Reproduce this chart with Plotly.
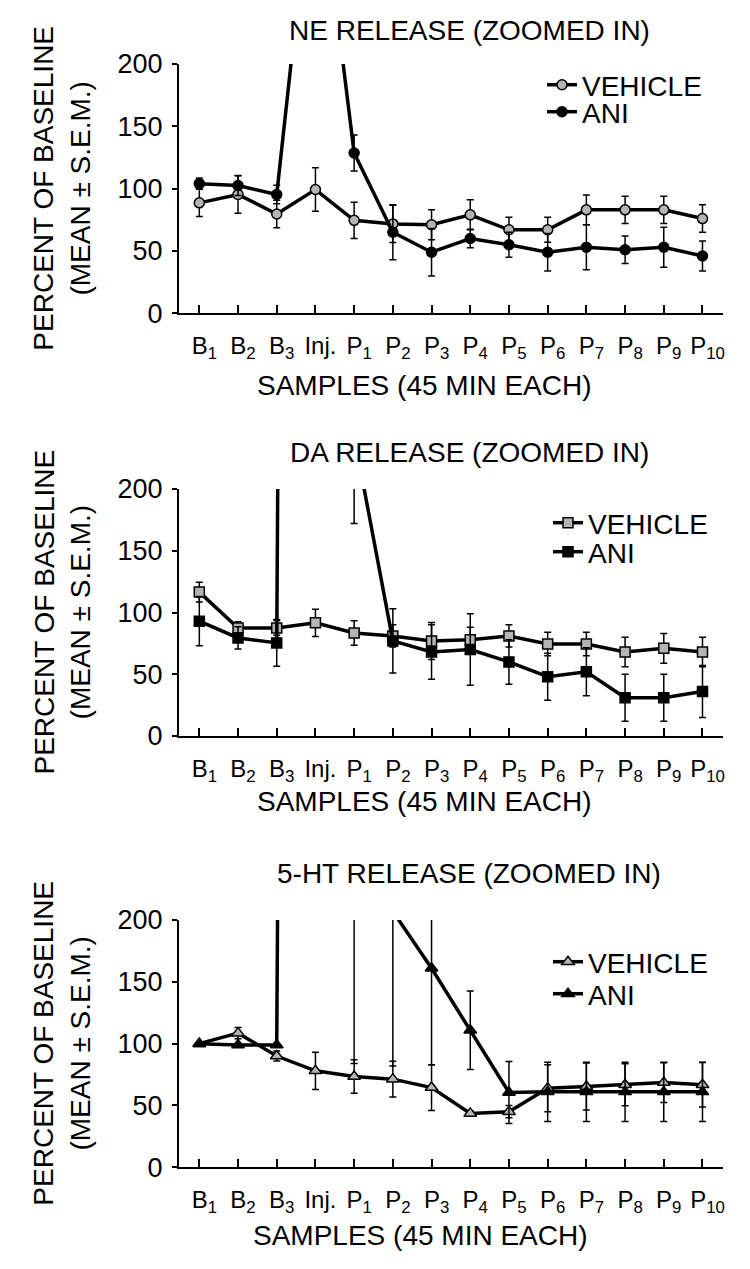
import plotly.graph_objects as go

# ---------------- data ----------------
categories = ["B1", "B2", "B3", "Inj.", "P1", "P2", "P3", "P4", "P5", "P6", "P7", "P8", "P9", "P10"]
tick_labels = ["B<sub>1</sub>", "B<sub>2</sub>", "B<sub>3</sub>", "Inj.",
               "P<sub>1</sub>", "P<sub>2</sub>", "P<sub>3</sub>", "P<sub>4</sub>", "P<sub>5</sub>",
               "P<sub>6</sub>", "P<sub>7</sub>", "P<sub>8</sub>", "P<sub>9</sub>", "P<sub>10</sub>"]
y_ticks = [0, 50, 100, 150, 200]

panel_titles = ["NE RELEASE (ZOOMED IN)", "DA RELEASE (ZOOMED IN)", "5-HT RELEASE (ZOOMED IN)"]
series_names = ["VEHICLE", "ANI"]

ne_vehicle = [88.6, 95.3, 79.7, 99.3, 74.6, 71.7, 71, 79, 67, 67, 83, 83, 83, 76]
ne_vehicle_err = [11, 15, 11, 17.5, 14.5, 15, 12, 12, 10, 10, 12, 11, 11, 11]
ne_ani = [104, 102.5, 95.3, 380, 128.6, 65, 49, 60, 55, 49, 53, 51, 53, 46]
ne_ani_err = [4.5, 8, 7.5, 0, 14.5, 22, 19, 7.5, 10, 15, 18, 11, 16, 12]

da_vehicle = [116.5, 87.5, 87.5, 91.6, 83.4, 81, 77, 78, 81, 74.5, 74.5, 68, 71, 68]
da_vehicle_err = [8, 5, 6, 11, 10, 9, 15, 10, 9, 9.5, 9.5, 12, 12, 12]
da_ani = [93, 79.4, 75.4, 5000, 243, 77, 68, 70, 60, 48, 52, 31, 31, 36]
da_ani_err = [20, 9, 19, 0, 71, 26, 22, 29, 18, 19, 19.5, 19, 19, 21]

ht_vehicle = [100, 108.5, 90, 78, 73.4, 71.3, 64.5, 43.6, 45, 64, 65.3, 66.7, 68.5, 66.7]
ht_vehicle_err = [1, 4.5, 4, 15, 13.5, 14.5, 18.5, 2, 5, 19, 19, 17, 16, 18]
ht_ani = [100, 99, 99, 5000, 350, 207, 161, 110.8, 60.5, 61, 61, 61, 61, 61]
ht_ani_err = [0, 0, 0, 0, 266, 125, 78, 31.7, 25, 24, 24, 24, 24, 24]

# ---------------- layout geometry (pixels) ----------------
W, H = 750, 1269
FONT = "Liberation Sans, Arial, Helvetica, sans-serif"
GREY = "#b4b4b4"


def py(px):
    return 1 - px / H


panels = [
    dict(data=(ne_vehicle, ne_vehicle_err, ne_ani, ne_ani_err), symbol="circle", msize=10,
         y0=313.3, y200=64, title_y=30, xtitle_y=385, xtitle_x=424,
         leg_x=(542, 542), leg_y=(85, 112)),
    dict(data=(da_vehicle, da_vehicle_err, da_ani, da_ani_err), symbol="square", msize=10,
         y0=736, y200=489, title_y=453, xtitle_y=801, xtitle_x=424,
         leg_x=(548, 548), leg_y=(523, 552)),
    dict(data=(ht_vehicle, ht_vehicle_err, ht_ani, ht_ani_err), symbol="triangle-up", msize=11,
         y0=1167.3, y200=920, title_y=873, xtitle_y=1235, xtitle_x=420,
         leg_x=(548, 548), leg_y=(962, 994)),
]

fig = go.Figure()
annotations = []
layout_extra = {}

for i, p in enumerate(panels):
    n = i + 1
    xa = "x" if n == 1 else f"x{n}"
    ya = "y" if n == 1 else f"y{n}"
    veh, veh_err, ani, ani_err = p["data"]
    leg_names = [f"legend{2 * i + 1}" if 2 * i + 1 > 1 else "legend", f"legend{2 * i + 2}"]

    for k, (vals, errs, fill) in enumerate([(veh, veh_err, GREY), (ani, ani_err, "black")]):
        fig.add_trace(go.Scatter(
            x=categories, y=vals, xaxis=xa, yaxis=ya,
            mode="lines+markers", name=series_names[k],
            legend=leg_names[k],
            line=dict(color="black", width=3.5),
            marker=dict(symbol=p["symbol"], size=p["msize"], color=fill,
                        line=dict(color="black", width=1.5)),
            error_y=dict(type="data", array=errs, visible=True,
                         color="black", thickness=1.5, width=3.5),
        ))

    dom_y = [py(p["y0"]), py(p["y200"])]
    layout_extra[f"xaxis{'' if n == 1 else n}"] = dict(
        domain=[179 / W, 723 / W], anchor=ya, type="category",
        categoryorder="array", categoryarray=categories,
        range=[-0.525, 13.53],
        tickmode="array", tickvals=categories, ticktext=tick_labels,
        ticks="inside", ticklen=8, tickwidth=1.5, tickcolor="black",
        showline=True, linecolor="black", linewidth=2,
        showgrid=False, zeroline=False, automargin=False,
        tickfont=dict(family=FONT, size=24, color="black"),
        ticklabelstandoff=10, ticklabelshift=5,
    )
    layout_extra[f"yaxis{'' if n == 1 else n}"] = dict(
        domain=dom_y, anchor=xa, range=[0, 200],
        tickmode="array", tickvals=y_ticks,
        ticks="outside", ticklen=5, tickwidth=2, tickcolor="black",
        showline=True, linecolor="black", linewidth=2,
        showgrid=False, zeroline=False, automargin=False,
        tickfont=dict(family=FONT, size=27, color="black"),
        ticklabelstandoff=4,
    )
    for k in range(2):
        layout_extra[leg_names[k]] = dict(
            x=p["leg_x"][k] / W, y=py(p["leg_y"][k]), xanchor="left", yanchor="middle",
            bgcolor="rgba(0,0,0,0)", borderwidth=0,
            font=dict(family=FONT, size=28, color="black"),
            itemwidth=30,
        )

    # panel title
    annotations.append(dict(text=panel_titles[i], xref="paper", yref="paper",
                            x=469 / W, y=py(p["title_y"]), xanchor="center", yanchor="middle",
                            showarrow=False, font=dict(family=FONT, size=28, color="black")))
    # x title
    annotations.append(dict(text="SAMPLES (45 MIN EACH)", xref="paper", yref="paper",
                            x=p["xtitle_x"] / W, y=py(p["xtitle_y"]), xanchor="center",
                            yanchor="middle", showarrow=False,
                            font=dict(family=FONT, size=28, color="black")))
    # y title
    annotations.append(dict(text="PERCENT OF BASELINE<br>(MEAN ± S.E.M.)", xref="paper",
                            yref="paper", x=62 / W, y=(dom_y[0] + dom_y[1]) / 2,
                            xanchor="center", yanchor="middle", textangle=-90,
                            showarrow=False,
                            font=dict(family=FONT, size=28, color="black")))

fig.update_layout(
    width=W, height=H,
    margin=dict(l=0, r=0, t=0, b=0, pad=0, autoexpand=False),
    paper_bgcolor="white", plot_bgcolor="white",
    showlegend=True,
    annotations=annotations,
    **layout_extra,
)

fig.write_html(
    "out.html",
    config={"displayModeBar": False},
    post_script="document.body.style.margin='0';document.body.style.overflow='hidden';",
)
